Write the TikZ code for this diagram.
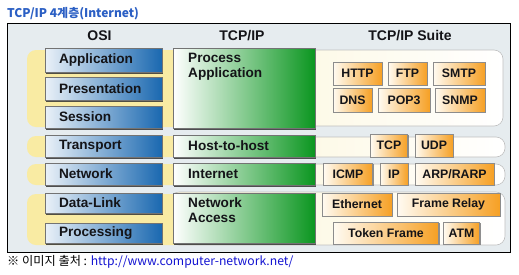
\documentclass[tikz,border=0pt]{standalone}
\usepackage{fontspec}
\setmainfont{Liberation Sans}
\newfontfamily\krfont{Noto Sans CJK KR}
\usetikzlibrary{shadows}
\definecolor{bgc}{HTML}{E6ECEF}
\definecolor{yel}{HTML}{F9EBA3}
\definecolor{creamL}{HTML}{FCF5D6}
\definecolor{osiL}{HTML}{EAF1F8}
\definecolor{osiR}{HTML}{1A68B0}
\definecolor{grnL}{HTML}{FFFFFF}
\definecolor{grnR}{HTML}{0B9620}
\definecolor{orL}{HTML}{FFFBF2}
\definecolor{orR}{HTML}{F6A024}
\definecolor{txt}{HTML}{141418}
\definecolor{titleblue}{HTML}{2B5FC4}
\definecolor{urlblue}{HTML}{1414D2}
\begin{document}
\begin{tikzpicture}[x=1pt,y=-1pt,
  osibox/.style={draw=black!55, line width=0.5pt, left color=osiL, right color=osiR,
    minimum width=117pt, text width=89pt, inner xsep=14pt, inner ysep=0pt, align=left,
    font=\bfseries\fontsize{13.6}{13.6}\selectfont, text=txt,
    drop shadow={shadow xshift=1.2pt, shadow yshift=-1.5pt, fill=black!80, opacity=0.85}},
  tcpbox/.style={draw=black!55, line width=0.5pt, left color=grnL, right color=grnR,
    minimum width=142pt, inner sep=0pt,
    drop shadow={shadow xshift=1.2pt, shadow yshift=-1.5pt, fill=black!80, opacity=0.85}},
  tcptxt/.style={anchor=west, align=left, inner sep=0pt,
    font=\bfseries\fontsize{13.6}{15}\selectfont, text=txt},
  sbox/.style={draw=black!45, line width=0.5pt, left color=orL, right color=orR,
    inner sep=0pt, font=\bfseries\fontsize{12.3}{12}\selectfont, text=txt,
    drop shadow={shadow xshift=1pt, shadow yshift=-1.2pt, fill=black!55, opacity=0.8}},
  cream/.style={draw=black!25, line width=0.6pt, left color=creamL, right color=white, rounded corners=9pt},
  yband/.style={fill=yel, rounded corners=9pt},
  head/.style={font=\bfseries\fontsize{14}{14}\selectfont, text=txt, inner sep=0pt}
]
\useasboundingbox (0,0) rectangle (519,274);
\fill[white] (0,0) rectangle (519,274);

% title
\node[anchor=west, inner sep=0pt, text=titleblue, font=\krfont\bfseries\fontsize{12}{12}\selectfont] (title) at (7,14) {TCP/IP 4계층(Internet)};

% frame
\draw[fill=bgc, line width=0.8pt] (7,23) rectangle (510,252);

% headers
\node[head] (hosi) at (99.5,36) {OSI};
\node[head] (htcp) at (242,36) {TCP/IP};
\node[head] (hsuite) at (410,36) {TCP/IP Suite};

% row bands
\path[cream] (170,50) rectangle (503,126);
\path[yband] (27,50) rectangle (182,127);
\path[cream] (170,137) rectangle (505,157);
\path[yband] (27,136) rectangle (182,157);
\path[cream] (170,164) rectangle (505,185);
\path[yband] (27,164) rectangle (182,185);
\path[cream] (170,192) rectangle (505,245);
\path[yband] (27,194) rectangle (182,245);

% OSI boxes
\node[osibox, minimum height=24pt] (app) at (103.5,60) {Application};
\node[osibox, minimum height=23pt] (pres) at (103.5,88.5) {Presentation};
\node[osibox, minimum height=22pt] (sess) at (103.5,117) {Session};
\node[osibox, minimum height=22pt] (trans) at (103.5,146) {Transport};
\node[osibox, minimum height=22pt] (net) at (103.5,174) {Network};
\node[osibox, minimum height=20pt] (dl) at (103.5,203) {Data-Link};
\node[osibox, minimum height=20pt] (proc) at (103.5,233) {Processing};

% TCP/IP boxes
\node[tcpbox, minimum height=80pt] (pa) at (244,88) {};
\node[tcptxt, anchor=north west] (patxt) at (188,53) {Process\\Application};
\node[tcpbox, minimum height=22pt] (hth) at (244,146) {};
\node[tcptxt] (hthtxt) at (188,146) {Host-to-host};
\node[tcpbox, minimum height=22pt] (inet) at (244,174) {};
\node[tcptxt] (inettxt) at (188,174) {Internet};
\node[tcpbox, minimum height=50pt] (na) at (244,218) {};
\node[tcptxt, anchor=north west] (natxt) at (188,197) {Network\\Access};

% suite boxes
\node[sbox, minimum width=49pt, minimum height=23pt] (http) at (357.5,73.5) {HTTP};
\node[sbox, minimum width=39pt, minimum height=23pt] (ftp) at (407.5,73.5) {FTP};
\node[sbox, minimum width=52pt, minimum height=23pt] (smtp) at (459,73.5) {SMTP};
\node[sbox, minimum width=39pt, minimum height=24pt] (dns) at (352.5,100) {DNS};
\node[sbox, minimum width=52pt, minimum height=24pt] (pop) at (404,100) {POP3};
\node[sbox, minimum width=50pt, minimum height=24pt] (snmp) at (460,100) {SNMP};

\node[sbox, minimum width=37pt, minimum height=23pt] (tcp) at (389,145.5) {TCP};
\node[sbox, minimum width=38pt, minimum height=23pt] (udp) at (434,145.5) {UDP};

\node[sbox, minimum width=49pt, minimum height=22pt] (icmp) at (348,174) {ICMP};
\node[sbox, minimum width=28pt, minimum height=22pt] (ip) at (394,174) {IP};
\node[sbox, minimum width=79pt, minimum height=22pt] (arp) at (454.5,174) {ARP/RARP};

\node[sbox, minimum width=70pt, minimum height=23pt] (eth) at (357,204.5) {Ethernet};
\node[sbox, minimum width=103pt, minimum height=23pt] (fr) at (448.5,204.5) {Frame Relay};
\node[sbox, minimum width=105pt, minimum height=22pt] (tf) at (386,233) {Token Frame};
\node[sbox, minimum width=36pt, minimum height=22pt] (atm) at (461.5,233) {ATM};

% source line
\node[anchor=west, inner sep=0pt, font=\krfont\fontsize{12.2}{13}\selectfont] (src) at (7,262) {※ 이미지 출처 : \textcolor{urlblue}{http://www.computer-network.net/}};
\end{tikzpicture}
\end{document}
